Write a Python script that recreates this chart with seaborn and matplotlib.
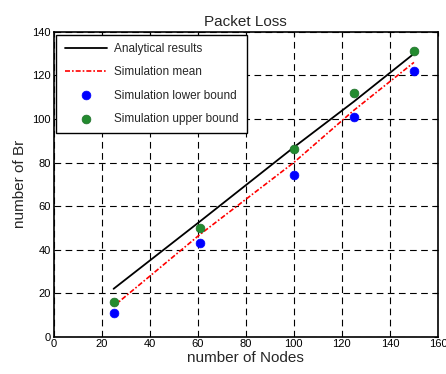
import pandas as pd
import matplotlib
matplotlib.use("Agg")
import matplotlib.pyplot as plt
import seaborn as sns

# data
nodes = [25, 61, 100, 125, 150]
analytical = [22, 53, 87, 108, 130]
sim_mean = [14, 47, 80, 104, 126]
sim_lower = [11, 43, 74.5, 101, 122]
sim_upper = [16, 50, 86, 112, 131]

x_ticks = [0, 20, 40, 60, 80, 100, 120, 140, 160]
y_ticks = [0, 20, 40, 60, 80, 100, 120, 140]

df = pd.DataFrame({
    "nodes": nodes,
    "analytical": analytical,
    "mean": sim_mean,
    "lower": sim_lower,
    "upper": sim_upper,
})

sns.set_style("white")
plt.rcParams['font.family'] = ['Liberation Sans', 'DejaVu Sans']

fig = plt.figure(figsize=(4.46, 3.74), dpi=100)
ax = fig.add_axes([0.12, 0.0997, 0.862, 0.815])

sns.lineplot(data=df, x="nodes", y="analytical", ax=ax, color="black",
             linewidth=1.3, label="Analytical results")
sns.lineplot(data=df, x="nodes", y="mean", ax=ax, color="red",
             linewidth=1.2, linestyle=(0, (3, 1.2, 1, 1.2)), label="Simulation mean")
sns.scatterplot(data=df, x="nodes", y="lower", ax=ax, color="#0000ff",
                s=40, edgecolor="#0000ff", linewidth=0.5, label="Simulation lower bound", zorder=3)
sns.scatterplot(data=df, x="nodes", y="upper", ax=ax, color="#238b2f",
                s=40, edgecolor="#1f6f2a", linewidth=0.5, label="Simulation upper bound", zorder=3)

ax.set_xlim(0, 160)
ax.set_ylim(0, 140)
ax.set_xticks(x_ticks)
ax.set_yticks(y_ticks)
ax.tick_params(direction="in", length=3, width=0.8, labelsize=8, pad=2,
               top=True, right=True, colors="black")
ax.grid(True, color="black", linestyle=(0, (6, 4)), linewidth=0.8)
for s in ax.spines.values():
    s.set_visible(True)
    s.set_color("black")
    s.set_linewidth(1.2)

ax.set_title("Packet Loss", fontsize=11, pad=4)
ax.set_xlabel("number of Nodes", fontsize=11, labelpad=1)
ax.set_ylabel("number of Br", fontsize=11, labelpad=4)

leg = ax.legend(loc="upper left", fontsize=8.5, frameon=True, fancybox=False,
                framealpha=1, edgecolor="black", borderaxespad=0.25,
                handlelength=3.6, handletextpad=0.6, labelspacing=0.95,
                borderpad=0.7)
leg.get_frame().set_linewidth(1.0)

fig.savefig("out.png", dpi=100)
